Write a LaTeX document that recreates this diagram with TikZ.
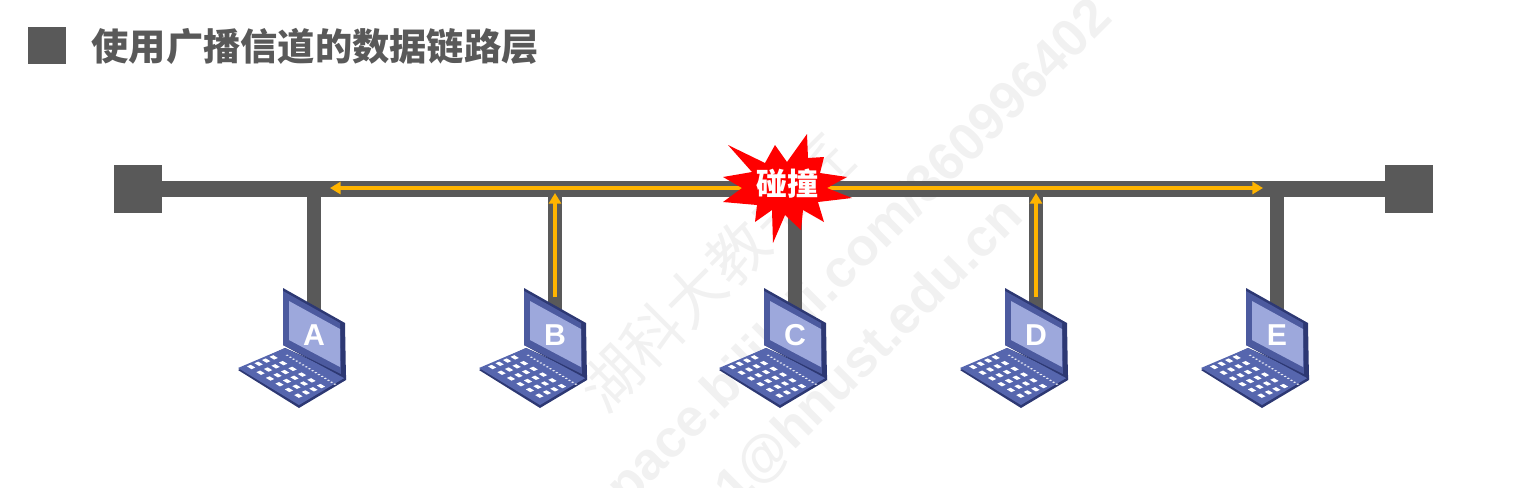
\documentclass[tikz,border=0pt]{standalone}
\usepackage{fontspec}
\setsansfont{Liberation Sans}
\newfontfamily\cjkfont{Noto Sans CJK SC}
\usetikzlibrary{arrows.meta, backgrounds}
\definecolor{BusInk}{HTML}{595959}
\definecolor{SignalInk}{HTML}{FFB400}
\definecolor{BurstRed}{HTML}{FF0000}
\definecolor{MarkInk}{HTML}{F1F1F1}
\definecolor{PcDark}{HTML}{2D3873}
\definecolor{PcBody}{HTML}{4C5A9F}
\definecolor{PcDeck}{HTML}{5666AE}
\definecolor{PcScreen}{HTML}{9DA8DC}
\tikzset{
  pics/laptop/.style={code={
    \fill[PcDark] (-.76,-.35) -- (-.15,-.73) -- (.32,-.45) -- (.32,-.40) -- (-.29,-.13) -- cycle;
    \fill[PcDeck] (-.76,-.33) -- (-.15,-.70) -- (.32,-.42) -- (-.29,-.13) -- cycle;
    \fill[PcDark] (-.31,.47) -- (.31,.12) -- (.32,-.44) -- (-.31,-.10) -- cycle;
    \fill[PcBody] (-.31,.44) -- (.26,.12) -- (.27,-.39) -- (-.31,-.10) -- cycle;
    \fill[PcScreen] (-.25,.34) -- (.26,.06) -- (.26,-.32) -- (-.25,-.05) -- cycle;
    \begin{scope}[shift={(-.76,-.33)}, x={(.61cm,-.37cm)}, y={(.47cm,.20cm)}]
      \foreach \i in {0,...,5}
        \foreach \j in {0,...,3}
          \fill[white] ({.035+\i*.155},{.145+\j*.16}) -- ++(.075,0) -- ++(0,.08) -- ++(-.075,0) -- cycle;
      \foreach \i in {0,...,15}
        \fill[white!85!PcDeck] ({.12+\i*.052},.86) -- ++(.022,0) -- ++(0,.035) -- ++(-.022,0) -- cycle;
    \end{scope}
    \node[pclabel] (label) at (0,0) {#1};
  }},
}
\begin{document}
\begin{tikzpicture}[
    >=Stealth,
    pclabel/.style={font=\sffamily\bfseries\fontsize{8.6}{8.6}\selectfont, text=white, inner sep=0pt},
    busend/.style={fill=BusInk, minimum size=0.48cm, inner sep=0pt, outer sep=0pt},
    buswire/.style={draw=BusInk, line width=4.3pt},
    stubwire/.style={draw=BusInk, line width=4pt},
    signal/.style={
      draw=SignalInk, line width=1.1pt,
      -{Stealth[length=3pt, width=3.4pt, inset=0pt]}
    },
    wmark/.style={rotate=45, text=MarkInk, inner sep=0pt},
  ]
    \useasboundingbox (0,0) rectangle (15.23,-4.87);

    \fill[BusInk] (0.28,-0.27) rectangle (0.66,-0.64);
    \node[anchor=west, inner sep=0pt, text=BusInk,
      font=\cjkfont\bfseries\fontsize{10.6}{10.6}\selectfont] (title) at (0.91,-0.46)
      {使用广播信道的数据链路层};

    \node[busend] (endL) at (1.38,-1.89) {};
    \node[busend] (endR) at (14.09,-1.89) {};

    \foreach \name/\x in {A/3.14, B/5.55, C/7.95, D/10.36, E/12.77} {
      \coordinate (tap\name) at (\x,-1.88);
      \pic (pc\name) at (\x,-3.35) {laptop=\name};
    }

    % collision burst
    \fill[BurstRed] (7.23,-1.77) -- (7.42,-1.88) -- (7.23,-2.02) -- (7.57,-2.05)
      -- (7.55,-2.22) -- (7.72,-2.10) -- (7.73,-2.43) -- (7.85,-2.15)
      -- (8.01,-2.30) -- (8.03,-2.10) -- (8.24,-2.22) -- (8.18,-2.02)
      -- (8.52,-1.98) -- (8.27,-1.88) -- (8.47,-1.77) -- (8.20,-1.73)
      -- (8.24,-1.57) -- (8.08,-1.58) -- (8.07,-1.34) -- (7.87,-1.62)
      -- (7.75,-1.45) -- (7.65,-1.63) -- (7.28,-1.45) -- (7.52,-1.72) -- cycle;
    \node[inner sep=0pt, text=white,
      font=\cjkfont\bfseries\fontsize{8.8}{8.8}\selectfont] (hit) at (7.87,-1.84) {碰撞};

    \coordinate (hub) at (7.87,-1.88);
    \coordinate (tipL) at (3.30,-1.88);
    \coordinate (tipR) at (12.63,-1.88);
    \coordinate (tipB) at (5.55,-1.93);
    \coordinate (tipD) at (10.36,-1.93);
    \coordinate (tailB) at (5.55,-2.97);
    \coordinate (tailD) at (10.36,-2.97);

    \begin{scope}[on background layer]
      \clip (0,0) rectangle (15.23,-4.87);
      \node[wmark, font=\cjkfont\fontsize{17}{17}\selectfont] (markA) at (7.16,-2.73) {湖科大教书匠};
      \node[wmark, anchor=east, font=\sffamily\bfseries\fontsize{15}{15}\selectfont] (markB) at (11.05,-0.10)
        {space.bilibili.com/360996402};
      \node[wmark, anchor=east, font=\sffamily\bfseries\fontsize{15}{15}\selectfont] (markC) at (10.15,-2.08)
        {1@hnust.edu.cn};
      \draw[buswire] (endL) -- (endR);
      \foreach \name in {A,B,C,D,E}
        \draw[stubwire] (tap\name) -- (pc\name label);
      \draw[signal] (hub) -- (tipL);
      \draw[signal] (hub) -- (tipR);
      \draw[signal] (tailB) -- (tipB);
      \draw[signal] (tailD) -- (tipD);
    \end{scope}
\end{tikzpicture}
\end{document}
